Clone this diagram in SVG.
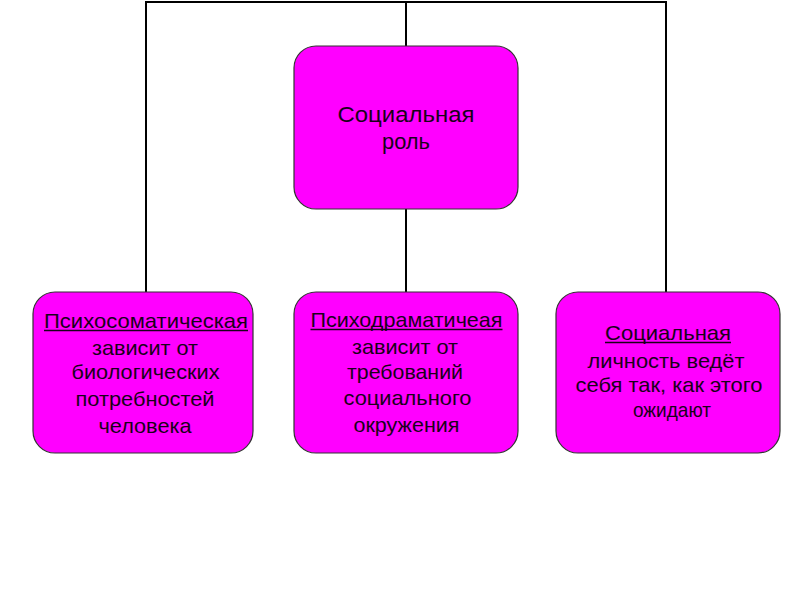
<svg xmlns="http://www.w3.org/2000/svg" width="800" height="600" viewBox="0 0 800 600">
<style>
.box{fill:#ff00ff;stroke:#333333;stroke-width:1.2}
.t{font-family:"Liberation Sans",Arial,sans-serif;font-size:21px;fill:#1a001a;text-anchor:middle}
.big{font-size:22px}
.ul{stroke:#1a001a;stroke-width:1.4}
.c{fill:none;stroke:#000000;stroke-width:2}
</style>
<rect width="800" height="600" fill="#ffffff"/>
<g id="connectors">
<polyline class="c" points="146,292 146,2 666,2 666,292"/>
<line class="c" x1="406" y1="2" x2="406" y2="46"/>
<line class="c" x1="406" y1="209" x2="406" y2="292"/>
</g>
<g id="node-role">
<rect class="box" x="294" y="46" width="224" height="163" rx="22"/>
<text class="t big" x="406" y="122" textLength="137" lengthAdjust="spacingAndGlyphs">Социальная</text>
<text class="t big" x="406" y="149" textLength="48" lengthAdjust="spacingAndGlyphs">роль</text>
</g>
<g id="node-psychosomatic">
<rect class="box" x="33" y="292" width="220" height="161" rx="22"/>
<text class="t" x="146" y="328" textLength="204" lengthAdjust="spacingAndGlyphs">Психосоматическая</text>
<line class="ul" x1="44" y1="330.5" x2="248" y2="330.5"/>
<text class="t" x="145" y="355" textLength="106" lengthAdjust="spacingAndGlyphs">зависит от</text>
<text class="t" x="145.5" y="379" textLength="148" lengthAdjust="spacingAndGlyphs">биологических</text>
<text class="t" x="145" y="406" textLength="139" lengthAdjust="spacingAndGlyphs">потребностей</text>
<text class="t" x="145" y="433" textLength="93" lengthAdjust="spacingAndGlyphs">человека</text>
</g>
<g id="node-psychodramatic">
<rect class="box" x="294" y="292" width="224" height="161" rx="22"/>
<text class="t" x="406.5" y="327" textLength="192" lengthAdjust="spacingAndGlyphs">Психодраматичеая</text>
<line class="ul" x1="310.5" y1="329.5" x2="502.5" y2="329.5"/>
<text class="t" x="405" y="354" textLength="106" lengthAdjust="spacingAndGlyphs">зависит от</text>
<text class="t" x="405" y="379" textLength="116" lengthAdjust="spacingAndGlyphs">требований</text>
<text class="t" x="407.5" y="405" textLength="128" lengthAdjust="spacingAndGlyphs">социального</text>
<text class="t" x="406.5" y="432" textLength="106" lengthAdjust="spacingAndGlyphs">окружения</text>
</g>
<g id="node-social">
<rect class="box" x="556" y="292" width="224" height="161" rx="22"/>
<text class="t" x="668" y="340" textLength="126" lengthAdjust="spacingAndGlyphs">Социальная</text>
<line class="ul" x1="605" y1="342.5" x2="731" y2="342.5"/>
<text class="t" x="666" y="368" textLength="157" lengthAdjust="spacingAndGlyphs">личность ведёт</text>
<text class="t" x="669" y="392" textLength="187" lengthAdjust="spacingAndGlyphs">себя так, как этого</text>
<text class="t" x="672" y="417" textLength="78" lengthAdjust="spacingAndGlyphs">ожидают</text>
</g>
</svg>
